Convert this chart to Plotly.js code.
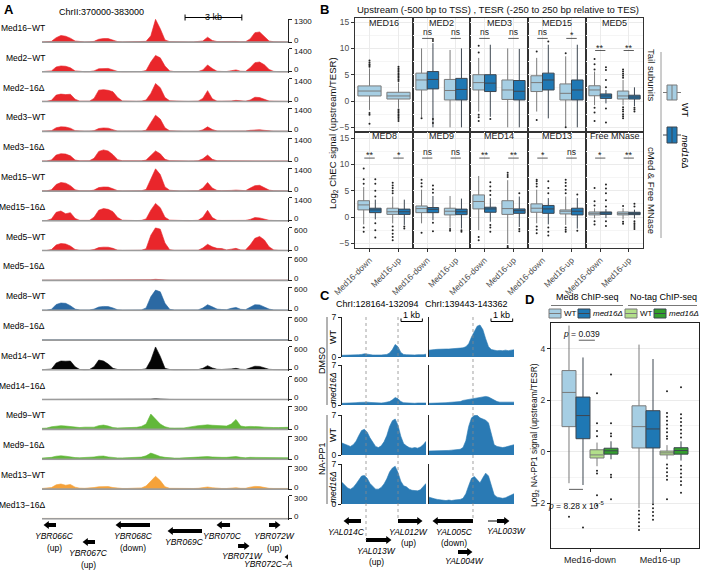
<!DOCTYPE html>
<html>
<head>
<meta charset="utf-8">
<script src="https://cdn.plot.ly/plotly-3.0.1.min.js"></script>
<style>
html,body{margin:0;padding:0;background:#fff;}
#chart{width:701px;height:570px;}
</style>
</head>
<body>
<div id="chart"></div>
<script>
// ======================= DATA =======================
// ---- Panel A : ChEC-seq tracks, chrII:370000-383000 (250 bp bins) ----
const posA = [370000,370250,370500,370750,371000,371250,371500,371750,372000,372250,
  372500,372750,373000,373250,373500,373750,374000,374250,374500,374750,
  375000,375250,375500,375750,376000,376250,376500,376750,377000,377250,
  377500,377750,378000,378250,378500,378750,379000,379250,379500,379750,
  380000,380250,380500,380750,381000,381250,381500,381750,382000,382250,
  382500,382750,383000];
const med16WT = [10,12,40,250,370,330,220,60,15,10, 12,40,160,200,195,120,25,10,8,10, 12,15,40,350,1280,750,120,25,12,10, 12,10,10,15,60,275,90,30,40,15, 20,35,15,20,180,530,570,300,60,15, 10,10,8];
const med2WT = [15,15,60,300,360,340,250,60,15,12, 15,60,190,220,210,120,25,12,10,10, 12,20,80,600,1000,850,350,60,15,12, 10,10,12,20,120,420,200,40,25,20, 70,120,40,30,250,560,600,430,150,30, 15,12,10];
const med2d = [20,20,80,400,460,430,450,150,30,20, 30,200,700,730,690,600,250,40,20,15, 20,30,100,500,1100,850,250,50,25,20, 20,15,20,30,200,670,180,30,25,25, 40,80,35,30,100,270,250,120,40,25, 20,20,15];
const med3WT = [15,15,50,230,280,270,200,50,15,12, 15,50,180,215,200,110,20,12,10,10, 12,20,80,550,990,750,220,40,15,12, 10,10,12,20,100,280,120,30,20,20, 40,60,30,25,70,110,105,70,30,15, 12,10,10];
const med3d = [20,20,80,380,460,440,330,80,25,20, 30,180,600,690,620,400,100,30,20,15, 20,25,70,380,630,450,120,35,20,20, 20,15,20,30,150,375,120,30,25,25, 35,45,30,30,45,60,55,40,25,20, 20,20,15];
const med15WT = [15,15,80,400,520,480,330,80,20,12, 15,60,210,250,240,140,25,12,10,10, 12,20,100,700,1350,1000,250,50,15,12, 10,10,12,25,180,520,180,40,25,20, 40,60,30,25,180,330,350,220,60,20, 15,12,10];
const med15d = [20,25,120,520,600,430,500,150,30,20, 30,220,650,745,700,560,200,40,20,15, 20,30,120,650,1060,800,220,45,25,20, 20,15,20,35,220,640,200,35,25,25, 35,60,30,30,90,200,180,90,35,25, 20,20,15];
const med5WT = [5,5,30,150,185,175,120,30,8,5, 8,30,80,92,90,60,12,5,5,5, 5,10,50,400,598,560,200,25,8,5, 5,5,5,10,70,165,100,60,55,20, 40,60,20,15,150,320,370,280,100,20, 8,5,5];
const med5d = [5,5,6,8,8,7,6,5,5,5, 6,7,8,8,7,6,5,5,5,5, 5,6,10,20,30,18,8,5,5,5, 5,5,5,6,8,9,7,6,5,6, 8,6,5,6,8,10,9,7,6,5, 5,5,5];
const med8WT = [5,5,25,150,190,180,120,30,8,5, 8,30,85,100,95,60,12,5,5,5, 5,10,60,350,525,480,180,25,8,5, 5,5,5,10,60,145,90,30,20,15, 50,75,25,15,80,145,140,90,30,10, 6,5,5];
const med8d = [6,6,7,8,8,7,6,6,6,6, 7,8,8,8,7,6,6,6,6,6, 6,7,8,9,10,8,7,6,6,6, 6,6,6,7,8,8,7,6,6,7, 8,7,6,6,7,8,8,7,6,6, 6,6,6];
const med14WT = [5,5,20,180,230,225,230,80,10,5, 8,80,256,230,150,40,10,5,5,5, 5,8,30,250,598,350,40,10,5,5, 5,5,5,8,40,110,50,15,10,8, 25,40,15,10,50,95,90,50,15,8, 5,5,5];
const med14d = [5,5,6,8,10,9,7,6,5,6, 8,12,20,18,12,8,6,5,5,5, 5,6,8,15,25,14,7,6,5,5, 5,5,5,6,8,10,8,6,5,6, 8,7,6,6,7,9,9,7,6,5, 5,5,5];
const med9WT = [15,18,35,45,50,45,40,30,25,30, 28,30,50,57,45,25,20,22,25,25, 28,40,70,200,140,70,35,20,18,15, 20,30,45,50,55,60,55,50,45,45, 70,130,45,35,40,40,35,30,25,25, 25,30,28];
const med9d = [15,18,25,40,45,40,30,22,20,22, 25,30,40,42,30,20,18,18,20,20, 22,28,45,80,60,35,25,18,15,15, 18,20,25,30,35,35,30,25,25,25, 30,35,25,20,25,25,25,20,18,18, 20,20,20];
const med13WT = [8,10,20,55,66,50,60,25,12,10, 12,20,30,35,32,20,10,8,8,8, 10,15,40,100,167,110,30,10,8,8, 8,8,8,10,20,27,18,10,8,8, 15,18,10,10,25,35,32,20,10,8, 8,8,8];
const med13d = [6,6,8,12,14,12,10,8,6,6, 7,8,10,12,10,8,6,6,6,6, 6,7,10,13,15,12,8,6,6,6, 6,6,6,7,9,10,8,6,6,7, 9,8,7,7,9,12,11,8,6,6, 6,6,6];
const tracksA = ['Med16−WT','Med2−WT','Med2−16Δ','Med3−WT','Med3−16Δ','Med15−WT','Med15−16Δ','Med5−WT','Med5−16Δ',
  'Med8−WT','Med8−16Δ','Med14−WT','Med14−16Δ','Med9−WT','Med9−16Δ','Med13−WT','Med13−16Δ'];
const scaleA = [1300,1400,1400,1400,1400,1400,1400,600,600,600,600,600,600,300,300,300,300];
const signalA = [med16WT,med2WT,med2d,med3WT,med3d,med15WT,med15d,med5WT,med5d,med8WT,med8d,med14WT,med14d,med9WT,med9d,med13WT,med13d];
const genesA = ['YBR066C','YBR067C','YBR068C','YBR069C','YBR070C','YBR071W','YBR072W','YBR072C−A'];
const geneStartA = [370053,372114,373858,376607,379197,380360,381998,382790];
const geneEndA = [370740,372801,375708,378457,379937,380994,382632,382900];
const geneStrandA = ['-','-','-','-','-','+','+','-'];
const geneNoteA = ['(up)','(up)','(down)','','','','(up)',''];
const scaleBarA = [377560, 380560];

// ---- Panel B : boxplots (Med16-down, Med16-up) ----
const facetsB = ['MED16','MED2','MED3','MED15','MED5','MED8','MED9','MED14','MED13','Free MNase'];
const groupsB = ['Med16-down','Med16-up'];
const wtQ1 = [[0.96,0.38],[2.1,0.2],[2.1,0.3],[1.8,0.2],[1.0,0.38],[1.35,0.5],[0.83,0.4],[1.54,0.5],[0.9,0.58],[0.4,0.4]];
const wtMed = [[1.9,0.96],[4.0,2.0],[3.5,2.1],[3.5,1.46],[2.1,0.96],[2.3,1.0],[1.6,1.1],[2.95,1.6],[1.67,1.1],[0.7,0.64]];
const wtQ3 = [[2.87,1.66],[5.3,4.1],[5.0,4.0],[4.8,3.25],[2.9,1.9],[3.1,1.67],[2.1,1.67],[4.2,3.1],[2.5,1.35],[0.96,0.96]];
const wtLo = [[-1.7,-1.3],[-3.1,-5.0],[-2.0,-5.0],[-2.0,-4.9],[-0.8,-0.8],[-1.4,-1.2],[-1.2,-2.0],[-2.5,-5.1],[-1.2,-1.5],[-0.26,-0.45]];
const wtHi = [[6.2,3.5],[10.0,9.7],[8.2,10.0],[8.2,8.5],[5.6,4.0],[5.7,3.9],[5.2,4.0],[7.8,7.0],[5.2,3.9],[1.67,1.67]];
const mutQ1 = [null,[2.3,0.2],[1.8,0.2],[2.1,0.2],[0.5,0.38],[0.83,0.5],[0.83,0.45],[0.9,0.7],[0.7,0.4],[0.5,0.45]];
const mutMed = [null,[4.1,2.2],[3.4,1.85],[4.0,2.1],[0.96,0.76],[1.35,1.0],[1.47,1.0],[1.54,1.2],[1.54,1.1],[0.77,0.7]];
const mutQ3 = [null,[5.6,4.3],[5.0,3.9],[5.3,4.0],[1.34,1.1],[1.67,1.5],[1.8,1.5],[1.86,1.54],[2.2,1.67],[0.96,0.9]];
const mutLo = [null,[-5.0,-5.0],[-3.0,-5.0],[-3.3,-5.0],[-0.45,-1.0],[-0.45,-1.5],[-0.6,-2.2],[-0.9,-1.9],[-1.4,-2.2],[-0.2,-0.3]];
const mutHi = [null,[11.0,10.0],[10.7,9.9],[10.7,10.7],[2.1,2.6],[3.3,3.3],[4.0,3.5],[3.6,3.9],[3.6,3.6],[1.5,1.4]];
const wtOut = [
  [[6.5,6.8,7.0,7.3,7.7,-2.3,-2.6,-4.3],[3.8,4.1,4.4,4.7,5.0,5.3,5.6,5.9,6.2,6.5,-1.6,-1.9,-2.2,-2.5,-2.8,-3.1,-3.4,-3.8]],
  [[-3.3],[]],
  [[9.2,10.5,-2.6,-3.1,-3.8],[]],
  [[9.4,-3.6],[9.1,-5.0]],
  [[6.0,7.0,8.0,-1.3,-2.2,-3.8],[4.4,4.8,5.2,5.6,6.0,-1.2,-1.6,-2.0,-2.5,-2.9,-3.3]],
  [[6.3,7.2,9.2,-2.0,-2.8],[4.5,5.0,5.5,6.0,6.5,-1.8,-2.5,-3.2,-3.8,-4.4]],
  [[5.8,6.4,7.1,-3.0],[-2.3,-2.6]],
  [[-3.8,-4.4],[7.6,8.0,8.4,-5.5,-5.8]],
  [[5.8,6.3,6.8,7.1,-1.8,-2.4,-3.1],[4.5,5.2,5.9,6.5,7.1,-2.0,-2.4,-2.8]],
  [[2.2,3.0,5.5,-0.8,-1.4],[2.1,-0.9,-1.3]]];
const mutOut = [
  null,
  [[11.4,11.8,-3.4,-4.2],[]],
  [[-3.4],[]],
  [[11.3],[]],
  [[2.6,4.0,5.9,6.4,-1.4,-4.1],[-1.3,-1.6,-2.0]],
  [[3.9,5.0,6.3,7.2,-1.2,-2.5,-3.9],[-1.8,-2.2]],
  [[4.6,5.3,6.0,-1.1,-2.7],[-2.5,-2.8]],
  [[4.2,5.0,5.8,6.6,-1.5,-2.0,-2.8],[4.5,-2.3,-2.7]],
  [[4.5,5.5,6.8,-2.0,-2.8,-3.5],[4.3,-2.6]],
  [[2.0,3.2,4.5,5.4,6.2,-0.8,-1.7],[2.0,2.5,-0.8,-1.2,-1.5,-1.9,-2.3]]];
const sigB = [['',''],['ns','ns'],['ns','ns'],['ns','*'],['**','**'],['**','*'],['ns','ns'],['**','**'],['*','ns'],['*','**']];

// ---- Panel C : NA-PP1 ChIP tracks ----
const posCL = [128164,128295,128426,128557,128688,128819,128950,129081,129212,129343,
  129474,129605,129736,129867,129998,130129,130260,130391,130522,130653,
  130784,130915,131046,131177,131308,131439,131570,131701,131832,131963,132094];
const posCR = [139443,139574,139704,139835,139966,140096,140227,140358,140488,140619,
  140750,140880,141011,141142,141272,141403,141534,141664,141795,141926,
  142056,142187,142318,142448,142579,142710,142840,142971,143102,143232,143362];
const dmsoWT_L = [0.3,0.3,0.35,0.3,0.35,0.4,0.4,0.45,0.55,0.5, 0.4,0.35,0.35,0.3,0.35,0.4,0.45,0.7,1.3,2.2, 1.8,0.8,0.45,0.4,0.35,0.4,0.35,0.4,0.35,0.4, 0.5];
const dmsoWT_R = [1.2,1.3,1.3,1.35,1.4,1.35,1.4,1.4,1.45,1.4, 1.5,1.5,1.6,1.8,2.3,3.5,4.6,5.4,5.6,4.8, 3.2,1.8,1.3,1.2,1.1,1.15,1.1,1.2,1.1,1.2, 1.25];
const dmsoMut_L = [0.3,0.3,0.3,0.35,0.35,0.4,0.45,0.5,0.55,0.5, 0.45,0.4,0.4,0.35,0.35,0.4,0.45,0.6,0.9,1.3, 1.1,0.6,0.4,0.35,0.35,0.35,0.3,0.35,0.35,0.3, 0.35];
const dmsoMut_R = [0.3,0.3,0.35,0.3,0.4,0.35,0.4,0.45,0.5,0.5, 0.55,0.6,0.8,0.9,1.0,1.1,1.2,1.3,1.4,1.5, 1.5,1.4,1.1,0.8,0.6,0.5,0.5,0.45,0.5,0.45, 0.5];
const nappWT_L = [2.1,1.9,1.7,1.5,1.8,2.4,3.4,4.3,4.5,4.0, 3.0,2.2,1.5,1.3,1.6,2.3,3.4,5.0,6.0,6.3, 5.2,3.3,2.0,1.6,1.3,1.2,1.3,1.2,1.4,1.8, 2.4];
const nappWT_R = [0.7,0.7,0.75,0.7,0.8,0.75,0.8,0.8,0.85,0.9, 0.9,1.0,1.3,2.5,5.0,6.5,6.9,6.95,6.5,6.3, 6.1,5.6,3.5,1.8,1.5,1.4,1.3,1.4,1.5,1.6, 1.8];
const nappMut_L = [3.8,3.3,2.8,2.6,2.9,3.5,4.3,4.9,5.0,4.5, 3.6,3.0,2.6,2.6,2.9,3.5,4.4,5.6,6.3,6.6, 5.5,4.0,3.2,3.0,2.6,2.4,2.3,2.3,2.5,3.0, 3.6];
const nappMut_R = [1.2,1.0,0.9,0.8,0.7,0.7,0.6,0.7,0.6,0.7, 0.7,0.8,1.0,1.8,3.2,4.5,4.8,4.2,3.7,4.6, 5.4,4.9,3.2,1.6,1.2,1.1,1.0,1.1,1.3,1.5, 1.8];
const rowsC = ['WT','med16Δ','WT','med16Δ'];
const leftC = [dmsoWT_L, dmsoMut_L, nappWT_L, nappMut_L];
const rightC = [dmsoWT_R, dmsoMut_R, nappWT_R, nappMut_R];
const genesC = ['YAL014C','YAL013W','YAL012W','YAL005C','YAL004W','YAL003W'];
const geneStartC = [128211,129287,130785,139581,140780,142163];
const geneEndC = [129053,130504,131955,141471,141471,143177];
const geneCdsC = [128211,129287,130785,139581,140780,142578];
const geneStrandC = ['-','+','+','-','+','+'];
const geneRegionC = [0,0,0,1,1,1];
const geneNoteC = ['','(up)','(up)','(down)','',''];
const tssGenesC = ['YAL013W','YAL012W','YAL005C'];
const scaleBarC = [[130925,131925],[142301,143301]];

// ---- Panel D : NA-PP1 ChIP boxplots ----
const groupsD = ['Med16-down','Med16-up'];
const seriesD = ['Med8 WT','Med8 med16Δ','No-tag WT','No-tag med16Δ'];
const dQ1 = [[0.97,0.14],[0.5,0.14],[-0.25,-0.13],[-0.1,-0.1]];
const dMed = [[2.3,0.97],[1.4,0.88],[-0.13,-0.05],[0.03,0.04]];
const dQ3 = [[3.15,1.78],[2.12,1.59],[0.07,0.02],[0.13,0.15]];
const dLo = [[-1.23,-2.2],[-1.3,-2.0],[-0.57,-0.3],[-0.3,-0.35]];
const dHi = [[4.9,4.16],[3.66,3.6],[0.35,0.25],[0.4,0.4]];
const dOut = [
  [[-2.53],[-2.3,-2.45,-2.6,-2.75,-2.9,-3.05]],
  [[-2.95],[-2.05,-2.2,-2.35,-2.5,-2.65]],
  [[2.27,1.1,0.8,0.6,-0.75,-0.85,-1.7,-2.1],[2.35,1.5,1.35,1.2,1.05,0.9,0.75,0.6,0.5,-0.5,-0.65,-0.8,-0.95,-1.1,-1.85]],
  [[3.0,1.1,0.7,0.6,-0.9,-1.0,-1.85],[2.5,1.45,1.3,1.15,1.0,0.85,0.7,0.55,-0.55,-0.7,-0.85,-1.0,-1.15,-1.3,-1.6]]];
const pTextD = ['<i>p</i> = 8.28 x 10<sup>-5</sup>','<i>p</i> = 0.039'];

// ======================= BUILD =======================
const FONT = 'Liberation Sans, Arial, Helvetica, sans-serif';
const W = 701, H = 570;
const px = v => v / W;
const py = v => 1 - v / H;
const fnt = (size, color, extra) => Object.assign({family: FONT, size: size, color: color || '#000'}, extra || {});

const layout = {
  width: W, height: H, margin: {l: 0, r: 0, t: 0, b: 0},
  paper_bgcolor: '#fff', plot_bgcolor: 'rgba(0,0,0,0)', showlegend: false,
  boxmode: 'group', boxgap: 0.2, boxgroupgap: 0,
  font: fnt(9), annotations: [], shapes: []
};
const data = [];
let nX = 0, nY = 0;
function addAxis(letter, opts) {
  const n = letter === 'x' ? ++nX : ++nY;
  const id = n === 1 ? letter : letter + n;
  layout[letter + 'axis' + (n === 1 ? '' : n)] = Object.assign({fixedrange: true, zeroline: false, showgrid: false}, opts);
  return id;
}
function ax(id) { return layout[id.charAt(0) + 'axis' + id.slice(1)]; }
function ann(text, x, y, o) {
  layout.annotations.push(Object.assign({text: text, x: px(x), y: py(y), xref: 'paper', yref: 'paper',
    showarrow: false, font: fnt(9), xanchor: 'center', yanchor: 'middle'}, o || {}));
}
function seg(x0, y0, x1, y1, color, width, extra) {
  layout.shapes.push(Object.assign({type: 'line', xref: 'paper', yref: 'paper', x0: px(x0), y0: py(y0), x1: px(x1), y1: py(y1),
    line: {color: color || '#000', width: width || 1}}, extra || {}));
}
function rect(x0, y0, x1, y1, fill, color) {
  layout.shapes.push({type: 'rect', xref: 'paper', yref: 'paper', x0: px(x0), y0: py(y0), x1: px(x1), y1: py(y1),
    fillcolor: fill, line: {color: color, width: 1}});
}
function geneArrow(start, end, strand, thickStart, xid, yid, laneY, bpp) {
  const tip = 4.04 * bpp;
  let headX, b0, b1;
  if (strand === '-') { headX = start + tip; b0 = headX; b1 = end; }
  else { headX = end - tip; b0 = thickStart; b1 = headX; }
  if (thickStart > start) data.push({type: 'scatter', mode: 'lines', x: [start, thickStart], y: [laneY, laneY], xaxis: xid, yaxis: yid, line: {color: '#000', width: 1}, hoverinfo: 'skip'});
  if (b1 > b0) data.push({type: 'scatter', mode: 'lines', x: [b0, b1], y: [laneY, laneY], xaxis: xid, yaxis: yid, line: {color: '#000', width: 4}, hoverinfo: 'skip'});
  data.push({type: 'scatter', mode: 'markers', x: [headX], y: [laneY], xaxis: xid, yaxis: yid,
    marker: {symbol: strand === '-' ? 'triangle-left' : 'triangle-right', size: 7, color: '#000', line: {width: 0}}, hoverinfo: 'skip'});
}

// ---------- Panel A ----------
const colorA = ['#e9262b','#e9262b','#e9262b','#e9262b','#e9262b','#e9262b','#e9262b','#e9262b','#e9262b',
  '#2b69a3','#2b69a3','#050505','#050505','#62b83a','#62b83a','#f5a23a','#f5a23a'];
const xA = addAxis('x', {domain: [px(42), px(288)], range: [posA[0], posA[posA.length - 1]], visible: false});
tracksA.forEach((name, i) => {
  const base = 42 + 29.8 * i, top = base - 23;
  const s = scaleA[i];
  const yid = addAxis('y', {domain: [py(base + 1), py(top)], range: [-s * 0.04, s], anchor: xA, side: 'right',
    showline: true, linecolor: '#222', linewidth: 1, ticks: 'outside', ticklen: 3, tickcolor: '#222',
    tickvals: [0, s], showticklabels: false});
  data.push({type: 'scatter', mode: 'lines', x: posA, y: signalA[i], xaxis: xA, yaxis: yid, fill: 'tozeroy',
    fillcolor: colorA[i], line: {color: colorA[i], width: 0.6}, hoverinfo: 'skip'});
  data.push({type: 'scatter', mode: 'lines', x: [posA[0], posA[posA.length - 1]], y: [0, 0], xaxis: xA, yaxis: yid,
    line: {color: '#9c9c9c', width: 1.8}, hoverinfo: 'skip'});
  layout.annotations.push({text: String(s), xref: 'paper', yref: yid, x: px(292), y: s, yshift: -2.5,
    xanchor: 'left', yanchor: 'middle', showarrow: false, font: fnt(8, '#111')});
  layout.annotations.push({text: '0', xref: 'paper', yref: yid, x: px(292), y: 0, yshift: 2,
    xanchor: 'left', yanchor: 'middle', showarrow: false, font: fnt(8, '#111')});
  ann(name, 47, base - 14, {xanchor: 'right', font: fnt(8.5)});
});
ax(xA).anchor = 'y';
const yGA = addAxis('y', {domain: [py(570), py(519)], range: [570, 519], visible: false, anchor: xA});
const laneA = [525, 542, 525, 531, 525, 546, 525, 557];
const lblXA = [55, 88, 133, 185, 222, 242, 274, 268];
const lblYA = [536, 553, 536, 542, 536, 556, 536, 564];
const bppA = (posA[posA.length - 1] - posA[0]) / 246;
genesA.forEach((g, i) => {
  geneArrow(geneStartA[i], geneEndA[i], geneStrandA[i], geneStartA[i], xA, yGA, laneA[i], bppA);
  ann('<i>' + g + '</i>', lblXA[i], lblYA[i], {font: fnt(8.5)});
  if (geneNoteA[i]) ann(geneNoteA[i], lblXA[i], lblYA[i] + 12, {font: fnt(8.5)});
});
ann('ChrII:370000-383000', 101, 12, {font: fnt(9)});
layout.shapes.push({type: 'line', xref: xA, yref: 'paper', x0: scaleBarA[0], x1: scaleBarA[1], y0: py(17.5), y1: py(17.5), line: {color: '#000', width: 1}});
scaleBarA.forEach(v => layout.shapes.push({type: 'line', xref: xA, yref: 'paper', x0: v, x1: v, y0: py(14.5), y1: py(20.5), line: {color: '#000', width: 1}}));
layout.annotations.push({text: '3 kb', xref: xA, yref: 'paper', x: (scaleBarA[0] + scaleBarA[1]) / 2, y: py(10), showarrow: false, font: fnt(9)});
ann('<b>A</b>', 9, 9, {font: fnt(13)});

// ---------- Panel B ----------
const colEdges = [355, 413, 470, 528, 586, 643];
const rowEdges = [[18, 132], [132, 248]];
const rowRanges = [[-5.89, 15.78], [-5.89, 16.16]];
const sigLineY = [null, 11.9, 11.9, 11.9, 9.6, 11.2, 11.2, 11.2, 11.2, 11.2];
const WT_FILL = '#a6cee3', MUT_FILL = '#1f78b4';
facetsB.forEach((fname, f) => {
  const r = Math.floor(f / 5), c = f % 5;
  const xid = addAxis('x', {domain: [px(colEdges[c]), px(colEdges[c + 1])], range: [-0.5, 1.5],
    showgrid: true, gridcolor: '#ebebeb', showline: true, mirror: true, linecolor: '#333', linewidth: 1,
    tickvals: [0, 1], ticktext: groupsB, showticklabels: r === 1, ticks: r === 1 ? 'outside' : '', ticklen: 3, tickcolor: '#333',
    tickangle: -45, tickfont: fnt(8.5, '#4d4d4d')});
  const yid = addAxis('y', {domain: [py(rowEdges[r][1]), py(rowEdges[r][0])], range: rowRanges[r],
    showgrid: true, gridcolor: '#ebebeb', tickvals: [-5, 0, 5, 10, 15],
    minor: {tickmode: 'array', tickvals: [-2.5, 2.5, 7.5, 12.5], showgrid: true, gridcolor: '#f5f5f5', ticks: ''},
    showline: true, mirror: true, linecolor: '#333', linewidth: 1,
    showticklabels: c === 0, ticks: c === 0 ? 'outside' : '', ticklen: 3, tickcolor: '#333', tickfont: fnt(8.5, '#4d4d4d')});
  ax(xid).anchor = yid; ax(yid).anchor = xid;
  const hasMut = !!mutQ1[f];
  data.push({type: 'box', x: [0, 1], q1: wtQ1[f], median: wtMed[f], q3: wtQ3[f], lowerfence: wtLo[f], upperfence: wtHi[f],
    xaxis: xid, yaxis: yid, offsetgroup: 'wt', fillcolor: WT_FILL, line: {color: '#7a7a7a', width: 1},
    whiskerwidth: 0, boxpoints: false, hoverinfo: 'skip', name: 'WT'});
  if (hasMut) data.push({type: 'box', x: [0, 1], q1: mutQ1[f], median: mutMed[f], q3: mutQ3[f], lowerfence: mutLo[f], upperfence: mutHi[f],
    xaxis: xid, yaxis: yid, offsetgroup: 'mut', fillcolor: MUT_FILL, line: {color: '#3d4650', width: 1},
    whiskerwidth: 0, boxpoints: false, hoverinfo: 'skip', name: 'med16Δ'});
  const offW = hasMut ? -0.2 : 0;
  [0, 1].forEach(g => {
    const ow = wtOut[f][g];
    if (ow.length) data.push({type: 'scatter', mode: 'markers', x: ow.map(() => g + offW), y: ow, xaxis: xid, yaxis: yid,
      marker: {size: 2, color: '#222'}, hoverinfo: 'skip'});
    if (hasMut) {
      const om = mutOut[f][g];
      if (om.length) data.push({type: 'scatter', mode: 'markers', x: om.map(() => g + 0.2), y: om, xaxis: xid, yaxis: yid,
        marker: {size: 2, color: '#222'}, hoverinfo: 'skip'});
    }
    const s = sigB[f][g];
    if (s) {
      const ly = sigLineY[f];
      layout.shapes.push({type: 'line', xref: xid, yref: yid, x0: g - 0.18, x1: g + 0.18, y0: ly, y1: ly, line: {color: '#333', width: 0.8}});
      layout.annotations.push({text: s, xref: xid, yref: yid, x: g, y: ly, yanchor: 'bottom', showarrow: false,
        yshift: s === 'ns' ? -1 : -4, font: fnt(s === 'ns' ? 8.5 : 9, '#222')});
    }
  });
  ann(fname, (colEdges[c] + colEdges[c + 1]) / 2, rowEdges[r][0] + 4.5, {font: fnt(9, '#1a1a1a')});
});
ann('<b>B</b>', 324, 9, {font: fnt(13)});
ann('Upstream (-500 bp to TSS) , TESR (-250 to 250 bp relative to TES)', 498, 9.5, {font: fnt(9.5, '#111')});
ann('Log<sub>2</sub> ChEC signal (upstream/TESR)', 333, 133, {textangle: -90, font: fnt(9.5, '#111')});
ann('Tail subunits', 651, 75, {textangle: 90, font: fnt(9.5, '#1a1a1a')});
ann('cMed &amp; Free MNase', 651, 190, {textangle: 90, font: fnt(9.5, '#1a1a1a')});
seg(661, 52, 661, 238, '#9a9a9a', 1);
rect(667, 85, 677, 100, WT_FILL, '#7a7a7a');
seg(672, 85, 672, 100, '#7a7a7a', 1); seg(663, 92.5, 667, 92.5, '#7a7a7a', 1); seg(677, 92.5, 681, 92.5, '#7a7a7a', 1);
rect(667, 127, 677, 143, MUT_FILL, '#3d4650');
seg(672, 127, 672, 143, '#3d4650', 1); seg(663, 135, 667, 135, '#3d4650', 1); seg(677, 135, 681, 135, '#3d4650', 1);
ann('WT', 685, 110, {textangle: 90, font: fnt(9)});
ann('<i>med16Δ</i>', 685, 152, {textangle: 90, font: fnt(9)});

// ---------- Panel C ----------
const C_FILL = '#2a7ab4';
const xCL = addAxis('x', {domain: [px(342), px(426)], range: [posCL[0], posCL[posCL.length - 1]], visible: false});
const xCR = addAxis('x', {domain: [px(429), px(514)], range: [posCR[0], posCR[posCR.length - 1]], visible: false});
const topsC = [317, 365, 415, 464];
rowsC.forEach((rname, i) => {
  const top = topsC[i], bot = top + 40;
  const yL = addAxis('y', {domain: [py(bot), py(top)], range: [0, 7], anchor: xCL, showline: true, linecolor: '#222',
    ticks: 'outside', ticklen: 3, tickcolor: '#222', tickvals: [0, 7], tickfont: fnt(8.5, '#111')});
  const yR = addAxis('y', {domain: [py(bot), py(top)], range: [0, 7], anchor: xCR, showline: true, linecolor: '#222',
    showticklabels: false, ticks: ''});
  data.push({type: 'scatter', mode: 'lines', x: posCL, y: leftC[i], xaxis: xCL, yaxis: yL, fill: 'tozeroy',
    fillcolor: C_FILL, line: {color: C_FILL, width: 0.6}, hoverinfo: 'skip'});
  data.push({type: 'scatter', mode: 'lines', x: posCR, y: rightC[i], xaxis: xCR, yaxis: yR, fill: 'tozeroy',
    fillcolor: C_FILL, line: {color: C_FILL, width: 0.6}, hoverinfo: 'skip'});
  const isWT = rname === 'WT';
  ann(isWT ? 'WT' : '<i>' + rname + '</i>', 333, top + (isWT ? 20 : 23), {textangle: -90, font: fnt(isWT ? 9 : 8.5)});
});
ann('DMSO', 322, 361, {textangle: -90, font: fnt(9)});
ann('NA-PP1', 322, 459, {textangle: -90, font: fnt(9)});
seg(327, 317, 327, 405, '#666', 1);
seg(327, 415, 327, 504, '#666', 1);
ann('ChrI:128164-132094', 378, 304, {font: fnt(9)});
ann('ChrI:139443-143362', 466, 304, {font: fnt(9)});
[xCL, xCR].forEach((xid, k) => {
  const sb = scaleBarC[k];
  layout.shapes.push({type: 'line', xref: xid, yref: 'paper', x0: sb[0], x1: sb[1], y0: py(321.5), y1: py(321.5), line: {color: '#000', width: 1}});
  sb.forEach(v => layout.shapes.push({type: 'line', xref: xid, yref: 'paper', x0: v, x1: v, y0: py(318.5), y1: py(321.5), line: {color: '#000', width: 1}}));
  layout.annotations.push({text: '1 kb', xref: xid, yref: 'paper', x: (sb[0] + sb[1]) / 2, y: py(315), showarrow: false, font: fnt(9)});
});
const yGC = addAxis('y', {domain: [py(570), py(508)], range: [570, 508], visible: false, anchor: xCL});
const laneC = [521, 540, 521, 521, 552, 521];
const lblXC = [346, 376, 409, 454, 464, 506];
const lblYC = [532, 551, 532, 532, 561, 531];
const bppC = [(posCL[30] - posCL[0]) / 84, (posCR[30] - posCR[0]) / 85];
genesC.forEach((g, i) => {
  const xid = geneRegionC[i] === 0 ? xCL : xCR;
  geneArrow(geneStartC[i], geneEndC[i], geneStrandC[i], geneCdsC[i], xid, yGC, laneC[i], bppC[geneRegionC[i]]);
  ann('<i>' + g + '</i>', lblXC[i], lblYC[i], {font: fnt(8.5)});
  if (geneNoteC[i]) ann(geneNoteC[i], lblXC[i], lblYC[i] + 11, {font: fnt(8.5)});
  if (tssGenesC.indexOf(g) >= 0) {
    const tss = geneStrandC[i] === '+' ? geneStartC[i] : geneEndC[i];
    layout.shapes.push({type: 'line', xref: xid, yref: 'paper', x0: tss, x1: tss, y0: py(317), y1: py(laneC[i]),
      line: {color: '#8a8a8a', width: 0.8, dash: 'dot'}});
  }
});
ann('<b>C</b>', 325, 296, {font: fnt(13)});

// ---------- Panel D ----------
const fillD = ['#a6cee3', '#1f78b4', '#b2df8a', '#33a02c'];
const lineD = ['#7a7a7a', '#3d4650', '#7a7a7a', '#3d4650'];
const xD = addAxis('x', {domain: [px(551), px(699)], range: [-0.557, 1.557], tickvals: [0, 1], ticktext: groupsD,
  showline: true, mirror: true, linecolor: '#222', linewidth: 1, ticks: 'outside', ticklen: 3, tickcolor: '#222', tickfont: fnt(9, '#222')});
const yD = addAxis('y', {domain: [py(548), py(323)], range: [-3.75, 5.0], tickvals: [-2, 0, 2, 4],
  showgrid: true, gridcolor: '#ebebeb', minor: {tickmode: 'array', tickvals: [-3, -1, 1, 3], showgrid: true, gridcolor: '#f4f4f4', ticks: ''},
  showline: true, mirror: true, linecolor: '#222', linewidth: 1, ticks: 'outside', ticklen: 3, tickcolor: '#222', tickfont: fnt(8.5, '#333')});
ax(xD).anchor = yD; ax(yD).anchor = xD;
const offD = [-0.3, -0.1, 0.1, 0.3];
seriesD.forEach((sname, s) => {
  data.push({type: 'box', x: [0, 1], q1: dQ1[s], median: dMed[s], q3: dQ3[s], lowerfence: dLo[s], upperfence: dHi[s],
    xaxis: xD, yaxis: yD, offsetgroup: 'd' + s, fillcolor: fillD[s], line: {color: lineD[s], width: 1},
    whiskerwidth: 0, boxpoints: false, hoverinfo: 'skip', name: sname});
  [0, 1].forEach(g => {
    const o = dOut[s][g];
    if (o.length) data.push({type: 'scatter', mode: 'markers', x: o.map(() => g + offD[s]), y: o, xaxis: xD, yaxis: yD,
      marker: {size: 2, color: '#222'}, hoverinfo: 'skip'});
  });
});
layout.shapes.push({type: 'line', xref: xD, yref: yD, x0: -0.3, x1: -0.1, y0: -1.47, y1: -1.47, line: {color: '#333', width: 0.8}});
layout.annotations.push({text: pTextD[0], xref: xD, yref: yD, x: -0.2, y: -2.08, showarrow: false, font: fnt(8.5, '#111')});
layout.shapes.push({type: 'line', xref: xD, yref: yD, x0: -0.16, x1: 0.07, y0: 4.33, y1: 4.33, line: {color: '#333', width: 0.8}});
layout.annotations.push({text: pTextD[1], xref: xD, yref: yD, x: -0.12, y: 4.58, showarrow: false, font: fnt(8.5, '#111')});
ann('Log<sub>2</sub> NA-PP1 signal (upstream/TESR)', 534, 435, {textangle: -90, font: fnt(8.5, '#111')});
ann('<b>D</b>', 529, 299, {font: fnt(13)});
ann('Med8 ChIP-seq', 587, 297, {font: fnt(9)});
ann('No-tag ChIP-seq', 663, 297, {font: fnt(9)});
seg(551, 305.5, 623, 305.5, '#555', 0.8);
seg(628, 305.5, 697, 305.5, '#555', 0.8);
const keyX = [549, 578, 625, 654];
const keyLbl = ['WT', '<i>med16Δ</i>', 'WT', '<i>med16Δ</i>'];
keyX.forEach((kx, s) => {
  rect(kx, 309, kx + 12, 318, fillD[s], lineD[s]);
  seg(kx, 313.5, kx + 12, 313.5, lineD[s], 1);
  ann(keyLbl[s], kx + 13, 313.5, {xanchor: 'left', font: fnt(8)});
});

Plotly.newPlot('chart', data, layout, {staticPlot: true, displayModeBar: false});
</script>
</body>
</html>
